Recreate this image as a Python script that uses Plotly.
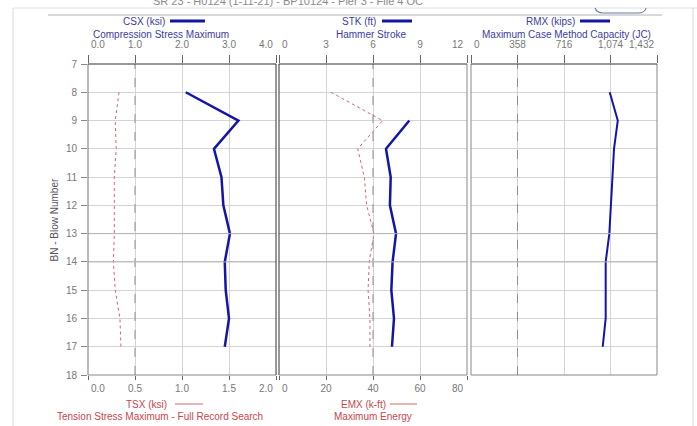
import plotly.graph_objects as go

W, H = 697, 426

# ---- data ----
blows = [8, 9, 10, 11, 12, 13, 14, 15, 16, 17]
csx = [2.08, 3.20, 2.68, 2.84, 2.88, 3.02, 2.91, 2.93, 3.00, 2.91]      # ksi
tsx = [0.33, 0.29, 0.30, 0.28, 0.28, 0.28, 0.27, 0.29, 0.34, 0.35]      # ksi
stk_blows = [9, 10, 11, 12, 13, 14, 15, 16, 17]
stk = [8.32, 6.83, 7.13, 7.08, 7.47, 7.25, 7.17, 7.34, 7.21]            # ft
emx = [22.1, 44.1, 33.5, 36.3, 37.3, 40.4, 38.4, 37.9, 38.7, 38.7]      # k-ft
rmx = [1068, 1130, 1101, 1088, 1076, 1065, 1037, 1037, 1037, 1014]      # kips

csx_ticks = [0, 1, 2, 3, 4]
csx_labels = ["0.0", "1.0", "2.0", "3.0", "4.0"]
tsx_ticks = [0, 0.5, 1.0, 1.5, 2.0]
tsx_labels = ["0.0", "0.5", "1.0", "1.5", "2.0"]
stk_ticks = [0, 3, 6, 9, 12]
stk_labels = ["0", "3", "6", "9", "12"]
emx_ticks = [0, 20, 40, 60, 80]
emx_labels = ["0", "20", "40", "60", "80"]
rmx_ticks = [0, 358, 716, 1074, 1432]
rmx_labels = ["0", "358", "716", "1,074", "1,432"]
bn_ticks = list(range(7, 19))

BLUE = "#1414a8"
BLUE_TXT = "#3c3ca0"
RED = "#d46a6a"
RED_TXT = "#c8464e"
TICK_TXT = "#777777"
FONT = "Liberation Sans, Arial, sans-serif"


def inner_labels(labels):
    # edge labels are drawn separately (aligned to their ticks)
    return [""] + list(labels[1:-1]) + [""]


def fx(px):
    return px / W


def fy(py):
    return 1 - py / H


d1 = [fx(88), fx(276)]
d2 = [fx(279), fx(467)]
d3 = [fx(471), fx(657)]
dy = [fy(375), fy(64)]

fig = go.Figure()
fig.add_trace(go.Scatter(x=tsx, y=blows, xaxis="x2", yaxis="y", mode="lines",
                         line=dict(color=RED, width=1, dash="dot"), name="TSX"))
fig.add_trace(go.Scatter(x=csx, y=blows, xaxis="x", yaxis="y", mode="lines",
                         line=dict(color=BLUE, width=2.5), name="CSX"))
fig.add_trace(go.Scatter(x=emx, y=blows, xaxis="x4", yaxis="y", mode="lines",
                         line=dict(color=RED, width=1, dash="dot"), name="EMX"))
fig.add_trace(go.Scatter(x=stk, y=stk_blows, xaxis="x3", yaxis="y", mode="lines",
                         line=dict(color=BLUE, width=2.5), name="STK"))
fig.add_trace(go.Scatter(x=rmx, y=blows, xaxis="x5", yaxis="y", mode="lines",
                         line=dict(color=BLUE, width=2), name="RMX"))

tickfont = dict(family=FONT, size=10, color=TICK_TXT)
common_top = dict(side="top", anchor="y", ticks="outside", ticklen=8, tickcolor="#666",
                  showgrid=True, gridcolor="#d4d4d4", gridwidth=1, zeroline=False,
                  showline=False, tickfont=tickfont, ticklabelstandoff=3, fixedrange=True,
                  automargin=False)
common_bot = dict(side="bottom", anchor="y", ticks="outside", ticklen=4, tickcolor="#666",
                  showgrid=False, zeroline=False, showline=False, tickfont=tickfont,
                  fixedrange=True, automargin=False)

axes_spec = [
    ("x", "xaxis", d1, [0, 4], csx_ticks, csx_labels, common_top, None),
    ("x2", "xaxis2", d1, [0, 2], tsx_ticks, tsx_labels, common_bot, "x"),
    ("x3", "xaxis3", d2, [0, 12], stk_ticks, stk_labels, common_top, None),
    ("x4", "xaxis4", d2, [0, 80], emx_ticks, emx_labels, common_bot, "x3"),
    ("x5", "xaxis5", d3, [0, 1432], rmx_ticks, rmx_labels, common_top, None),
]

layout_axes = {}
for ref, name, dom, rng, tv, tl, common, over in axes_spec:
    ax = dict(domain=dom, range=rng, tickvals=tv, ticktext=inner_labels(tl), **common)
    if over:
        ax["overlaying"] = over
    layout_axes[name] = ax

fig.update_layout(
    template="none",
    width=W, height=H, margin=dict(l=0, r=0, t=0, b=0, pad=0, autoexpand=False),
    paper_bgcolor="white", plot_bgcolor="white", showlegend=False,
    font=dict(family=FONT),
    yaxis=dict(domain=dy, range=[18, 7], tickvals=bn_ticks, anchor="x", side="left",
               ticks="outside", ticklen=6, tickcolor="#888", showgrid=True,
               gridcolor="#d4d4d4", zeroline=False, showline=False, tickfont=tickfont,
               ticklabelstandoff=2, fixedrange=True, automargin=False),
    **layout_axes,
)

shapes = []
# darker grid lines
for xr, v in (("x", 1), ("x3", 6), ("x5", 358)):
    shapes.append(dict(type="line", xref=xr, yref="y domain", x0=v, x1=v, y0=0, y1=1,
                       line=dict(color="#8f8f8f", width=1, dash="dash")))
for dom in (d1, d2, d3):
    for v in (13, 14):
        shapes.append(dict(type="line", xref="paper", yref="y", x0=dom[0], x1=dom[1],
                           y0=v, y1=v, line=dict(color="#b4b4b4", width=1)))
# panel frames
for dom, lc, rc in ((d1, "#777", "#333"), (d2, "#333", "#888"), (d3, "#888", "#888")):
    shapes.append(dict(type="line", xref="paper", yref="paper", x0=dom[0], x1=dom[0],
                       y0=dy[0], y1=dy[1], line=dict(color=lc, width=1)))
    shapes.append(dict(type="line", xref="paper", yref="paper", x0=dom[1], x1=dom[1],
                       y0=dy[0], y1=dy[1], line=dict(color=rc, width=1)))
    shapes.append(dict(type="line", xref="paper", yref="paper", x0=dom[0], x1=dom[1],
                       y0=dy[0], y1=dy[0], line=dict(color="#888", width=1)))
    shapes.append(dict(type="line", xref="paper", yref="paper", x0=dom[0], x1=dom[1],
                       y0=dy[1], y1=dy[1], line=dict(color="#333", width=1.2)))
# legend samples
for x0, x1, y, c, w in ((170, 205, 21, BLUE, 3), (382, 412, 21, BLUE, 3), (580, 610, 21, BLUE, 3),
                        (175, 203, 404, RED, 1), (390, 417, 404, RED, 1)):
    shapes.append(dict(type="line", xref="paper", yref="paper", x0=fx(x0), x1=fx(x1),
                       y0=fy(y), y1=fy(y), line=dict(color=c, width=w)))
# page decorations
shapes.append(dict(type="line", xref="paper", yref="paper", x0=fx(13), x1=fx(13), y0=0, y1=fy(8),
                   line=dict(color="#d8d8d8", width=1)))
shapes.append(dict(type="line", xref="paper", yref="paper", x0=fx(13), x1=1, y0=fy(8), y1=fy(8),
                   line=dict(color="#e0e0e0", width=1)))
shapes.append(dict(type="line", xref="paper", yref="paper", x0=fx(693), x1=fx(693), y0=0, y1=fy(8),
                   line=dict(color="#d8d8d8", width=1)))
shapes.append(dict(type="line", xref="paper", yref="paper", x0=fx(48), x1=fx(662), y0=fy(15),
                   y1=fy(15), line=dict(color="#b0b0b0", width=1)))
shapes.append(dict(type="path", xref="paper", yref="paper",
                   path=f"M {fx(595)},{fy(8)} Q {fx(597)},{fy(13)} {fx(603)},{fy(13)} "
                        f"L {fx(638)},{fy(13)} Q {fx(645)},{fy(13)} {fx(646)},{fy(8)}",
                   line=dict(color="#6b7aa6", width=1.2)))
fig.update_layout(shapes=shapes)

ann = []

# edge tick labels: first starts at its tick, last ends at its tick
for ref, name, dom, rng, tv, tl, common, over in axes_spec:
    top = common is common_top
    for val, lab, anc in ((tv[0], tl[0], "left"), (tv[-1], tl[-1], "right")):
        ann.append(dict(xref=ref, yref="paper", x=val, y=fy(44 if top else 388), text=lab,
                        showarrow=False, xanchor=anc, yanchor="middle", xshift=(1 if anc == "left" else -1),
                        font=tickfont))


def txt(x, y, s, color, size=10, anchor="center"):
    ann.append(dict(xref="paper", yref="paper", x=fx(x), y=fy(y), text=s, showarrow=False,
                    xanchor=anchor, yanchor="middle",
                    font=dict(family=FONT, size=size, color=color)))


txt(167, 21, "CSX (ksi)", BLUE_TXT, anchor="right")
txt(161, 34, "Compression Stress Maximum", BLUE_TXT)
txt(378, 21, "STK (ft)", BLUE_TXT, anchor="right")
txt(371, 34, "Hammer Stroke", BLUE_TXT)
txt(577, 21, "RMX (kips)", BLUE_TXT, anchor="right")
txt(566, 34, "Maximum Case Method Capacity (JC)", BLUE_TXT)
txt(169, 404, "TSX (ksi)", RED_TXT, anchor="right")
txt(160, 416, "Tension Stress Maximum - Full Record Search", RED_TXT)
txt(388, 404, "EMX (k-ft)", RED_TXT, anchor="right")
txt(373, 416, "Maximum Energy", RED_TXT)
txt(288, 1, "SR 23 - H0124 (1-11-21) - BP10124 - Pier 3 - File 4 OC", "#8a8a8a", size=11)
ann.append(dict(xref="paper", yref="paper", x=fx(54), y=(dy[0] + dy[1]) / 2,
                text="BN - Blow Number", showarrow=False, textangle=-90,
                xanchor="center", yanchor="middle",
                font=dict(family=FONT, size=10, color="#555555")))
fig.update_layout(annotations=ann)

fig.write_html("out.html", config={"displayModeBar": False},
               post_script="document.body.style.margin='0';"
                           "document.body.style.overflow='hidden';")
